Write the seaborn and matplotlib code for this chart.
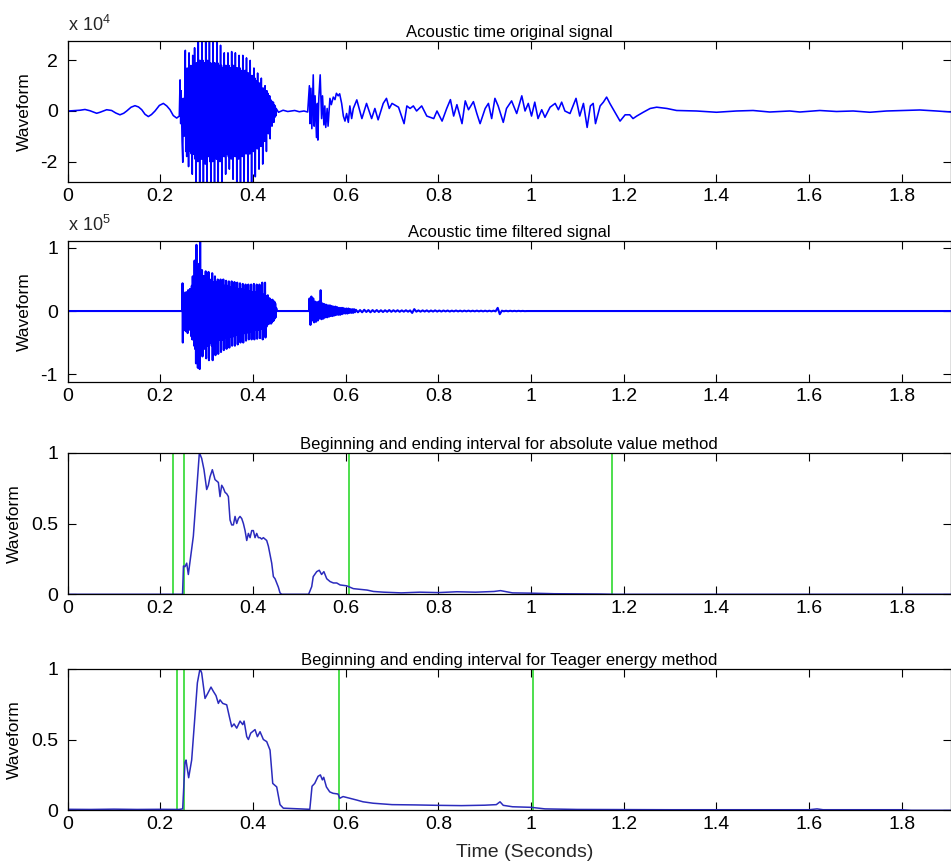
import numpy as np
import pandas as pd
import matplotlib
matplotlib.use("Agg")
import matplotlib.pyplot as plt
import seaborn as sns

# ---------------- data ----------------
# Panel 1: original signal, values in units of 1e4
orig_lead_t = [0.0, 0.0016, 0.0268, 0.0375, 0.0483, 0.0627, 0.070, 0.0843, 0.095, 0.104,
               0.113, 0.121, 0.1275, 0.137, 0.1454, 0.153, 0.160, 0.167, 0.1742, 0.181,
               0.1886, 0.198, 0.2066, 0.214, 0.221, 0.228, 0.2354, 0.241, 0.2427,
               0.2440, 0.2450, 0.2470, 0.2485, 0.2495, 0.2510, 0.2525]
orig_lead_v = [0.0, 0.0, 0.03, 0.06, 0.01, -0.09, -0.05, 0.05, 0.02, -0.08,
               -0.15, -0.09, 0.0, 0.15, 0.21, 0.16, 0.05, -0.13, -0.22, -0.14,
               0.0, 0.22, 0.30, 0.2, 0.05, -0.18, -0.28, -0.2, 1.23,
               -0.5, 0.8, -1.2, -2.03, 0.5, -1.0, 0.3]
orig_burst_start = 0.254
orig_burst_step = 0.001
orig_burst_v = [2.4, -1.6, 1.5, -1.8, 1.7, -1.6, 1.5, -2.2, 2.3, -1.5,
                1.6, -1.6, 1.8, -1.7, 1.6, -2.5, 2.2, -1.7, 1.8, -1.7,
                2.5, -1.9, 1.8, -2.82, 1.9, -1.8, 1.9, -2.0, 2.8, -1.9,
                2.0, -2.82, 2.0, -1.8, 1.9, -1.9, 2.8, -1.9, 2.0, -2.82,
                1.9, -1.9, 1.9, -2.1, 2.8, -2.0, 2.0, -2.82, 2.0, -1.8,
                1.9, -1.8, 2.8, -2.0, 1.9, -2.82, 1.8, -1.9, 1.9, -2.0,
                2.8, -1.9, 1.9, -2.82, 1.9, -1.8, 1.8, -1.9, 2.8, -1.9,
                1.9, -2.82, 1.8, -1.8, 1.8, -2.0, 2.6, -1.8, 1.8, -2.82,
                1.7, -1.7, 1.7, -1.8, 2.3, -1.8, 1.8, -2.5, 1.8, -1.7,
                1.7, -1.7, 2.3, -1.8, 1.8, -2.3, 1.7, -1.7, 1.7, -1.9,
                2.35, -1.8, 1.8, -2.7, 1.8, -1.7, 1.7, -1.8, 2.3, -1.8,
                1.7, -2.82, 1.7, -1.7, 1.7, -1.9, 2.2, -1.8, 1.7, -2.82,
                1.6, -1.7, 1.6, -1.8, 2.2, -1.7, 1.6, -2.82, 1.6, -1.6,
                1.6, -1.7, 2.1, -1.6, 1.5, -2.82, 1.5, -1.6, 1.5, -1.7,
                2.0, -1.6, 1.4, -2.82, 1.4, -1.5, 1.4, -1.6, 1.7, -1.5,
                1.3, -2.6, 1.2, -1.4, 1.2, -1.5, 1.5, -1.3, 1.1, -2.3,
                1.1, -1.3, 1.1, -1.4, 1.3, -1.2, 0.9, -2.1, 0.9, -1.1,
                0.9, -1.2, 1.0, -1.0, 0.8, -1.6, 0.8, -0.8, 0.7, -0.9,
                0.6, -0.7, 0.6, -1.1, 0.45, -0.5, 0.4, -0.6, 0.35, -0.4,
                0.35, -0.45, 0.25, -0.25, 0.2, -0.2, 0.1]
orig_tail_t = [0.455, 0.465, 0.475, 0.49, 0.50, 0.51, 0.518,
               0.5217, 0.523, 0.525, 0.527, 0.530, 0.532, 0.534, 0.537, 0.539, 0.540,
               0.542, 0.545, 0.548, 0.550, 0.553, 0.555, 0.557, 0.560, 0.562, 0.566,
               0.569, 0.5733, 0.5769, 0.580, 0.5838, 0.587, 0.5913, 0.595, 0.5985, 0.602,
               0.6057, 0.609, 0.6129, 0.6165,
               0.624, 0.635, 0.645, 0.656, 0.663, 0.670, 0.681, 0.688, 0.694, 0.700,
               0.714, 0.726, 0.732, 0.739, 0.746, 0.753, 0.764, 0.775, 0.790, 0.797,
               0.808, 0.818, 0.826, 0.833, 0.840, 0.851, 0.858, 0.865, 0.8756, 0.883,
               0.890, 0.901, 0.908, 0.915, 0.922, 0.929, 0.940, 0.947, 0.958, 0.969,
               0.980, 0.987, 0.994, 1.001, 1.008, 1.015, 1.023, 1.030, 1.041, 1.052,
               1.059, 1.066, 1.073, 1.084, 1.097, 1.105, 1.113, 1.121, 1.128, 1.134,
               1.139, 1.149, 1.156, 1.163, 1.170, 1.181, 1.192, 1.203, 1.213, 1.220,
               1.228, 1.242, 1.257, 1.271, 1.293, 1.314, 1.357, 1.400, 1.443, 1.479,
               1.515, 1.558, 1.580, 1.623, 1.659, 1.695, 1.731, 1.767, 1.803, 1.839,
               1.875, 1.906]
orig_tail_v = [-0.05, 0.03, -0.02, 0.02, -0.03, 0.0, -0.04,
               1.0, -0.5, 0.9, -0.7, 1.43, -0.6, 0.6, -1.05, 0.3, -1.15,
               0.5, 1.43, -0.3, 0.6, -0.55, 0.2, -0.65, 0.1, -0.6, 0.5,
               0.25, 0.55, 0.45, 0.7, 0.6, 0.68, 0.3, -0.2, -0.4, -0.1,
               -0.45, 0.2, -0.3, 0.1,
               0.44, -0.3, 0.3, -0.3, 0.1, -0.35, 0.3, 0.5, 0.1, 0.3,
               0.15, -0.5, 0.2, 0.1, 0.2, 0.0, 0.2, -0.2, -0.3, 0.0,
               -0.4, 0.1, 0.45, -0.2, 0.25, -0.5, 0.4, 0.05, 0.37, -0.1,
               -0.5, 0.1, 0.3, -0.3, 0.5, 0.2, -0.45, 0.1, 0.4, -0.1,
               0.6, 0.0, 0.3, -0.2, 0.35, -0.3, 0.05, -0.25, 0.15, 0.3,
               0.05, 0.35, 0.0, -0.1, 0.5, -0.2, 0.3, -0.65, 0.2, 0.3,
               -0.5, 0.2, 0.35, 0.55, 0.3, -0.05, -0.4, -0.15, -0.15, -0.3,
               -0.2, -0.05, 0.1, 0.15, 0.1, 0.02, 0.0, -0.05, 0.0, 0.02,
               -0.04, 0.0, -0.04, 0.02, -0.02, 0.0, -0.05, 0.0, 0.02, 0.04,
               0.0, -0.04]

# Panel 2: filtered signal, values in units of 1e5
filt_lead_t = [0.0, 0.2475, 0.2480, 0.2486, 0.2490]
filt_lead_v = [0.0, 0.0, 0.44, -0.5, 0.1]
filt_burst1_start = 0.250
filt_burst1_step = 0.001
filt_burst1_v = [0.3, -0.28, 0.25, -0.3, 0.22, -0.32, 0.3, -0.25, 0.28, -0.35,
                 0.33, -0.3, 0.3, -0.28, 0.35, -0.3, 0.33, -0.4, 0.4, -0.45,
                 0.55, -0.45, 0.5, -0.55, 0.8, -0.6, 0.7, -0.83, 1.05, -0.7,
                 0.6, -0.9, 0.7, -0.6, 0.75, -0.92, 1.1, -0.6, 0.55, -0.6,
                 0.65, -0.72, 0.55, -0.5, 0.55, -0.6, 0.5, -0.55, 0.63, -0.75,
                 0.5, -0.55, 0.5, -0.5, 0.62, -0.78, 0.5, -0.5, 0.45, -0.5,
                 0.5, -0.55, 0.6, -0.78, 0.45, -0.5, 0.45, -0.5, 0.55, -0.7,
                 0.45, -0.5, 0.45, -0.45, 0.5, -0.68, 0.42, -0.45, 0.42, -0.45,
                 0.5, -0.65, 0.4, -0.45, 0.4, -0.45, 0.5, -0.62, 0.4, -0.42,
                 0.4, -0.42, 0.48, -0.6, 0.38, -0.42, 0.4, -0.4, 0.47, -0.58,
                 0.37, -0.4, 0.38, -0.4, 0.47, -0.55, 0.37, -0.4, 0.37, -0.38,
                 0.46, -0.55, 0.36, -0.38, 0.36, -0.38, 0.45, -0.53, 0.35, -0.37,
                 0.35, -0.37, 0.44, -0.5, 0.34, -0.36, 0.34, -0.36, 0.43, -0.5,
                 0.33, -0.35, 0.33, -0.35, 0.42, -0.47, 0.32, -0.34, 0.32, -0.33,
                 0.42, -0.45, 0.31, -0.33, 0.31, -0.32, 0.42, -0.45, 0.3, -0.32,
                 0.3, -0.32, 0.43, -0.45, 0.3, -0.3, 0.3, -0.3, 0.42, -0.44,
                 0.28, -0.3, 0.28, -0.3, 0.42, -0.43, 0.28, -0.28, 0.27, -0.28,
                 0.45, -0.45, 0.26, -0.27, 0.25, -0.26, 0.45, -0.42, 0.24, -0.25,
                 0.22, -0.22, 0.25, -0.2, 0.2, -0.2, 0.2, -0.18, 0.18, -0.2,
                 0.17, -0.18, 0.18, -0.16, 0.15, -0.15, 0.15, -0.12, 0.12, -0.1,
                 0.05]
filt_gap_t = [0.452, 0.521]
filt_gap_v = [0.0, 0.0]
filt_burst2_start = 0.522
filt_burst2_step = 0.002
filt_burst2_v = [0.2, -0.22, 0.23, -0.15, 0.2, -0.18, 0.15, -0.17, 0.14, -0.15,
                 0.15, -0.12, 0.33, -0.13, 0.12, -0.12, 0.11, -0.1, 0.1, -0.1,
                 0.09, -0.09, 0.09, -0.08, 0.08, -0.08, 0.07, -0.07, 0.07, -0.06,
                 0.06, -0.06, 0.05, -0.06, 0.05, -0.05, 0.05, -0.04, 0.04, -0.04,
                 0.04, -0.04, 0.04, -0.03, 0.03, -0.03, 0.03, -0.03, 0.03, -0.02]
filt_tail_start = 0.622
filt_tail_step = 0.0045
filt_tail_v = [0.02, -0.02, 0.015, -0.02, 0.02, -0.015, 0.015, -0.02, 0.015, -0.015,
               0.015, -0.015, 0.012, -0.015, 0.012, -0.012, 0.015, -0.012, 0.012, -0.01,
               0.012, -0.012, 0.01, -0.01, 0.012, -0.01, 0.01, -0.03, 0.03, -0.01,
               0.01, -0.01, 0.01, -0.008, 0.01, -0.01, 0.008, -0.008, 0.01, -0.008,
               0.008, -0.008, 0.008, -0.006, 0.008, -0.008, 0.006, -0.006, 0.008, -0.006,
               0.006, -0.006, 0.006, -0.005, 0.006, -0.005, 0.005, -0.005, 0.006, -0.005,
               0.005, -0.005, 0.005, -0.005, 0.005, -0.005, 0.005, -0.005, 0.05, -0.05,
               0.005, -0.004, 0.004, -0.004, 0.004, -0.003, 0.003, -0.003, 0.003, -0.002,
               0.002, -0.002, 0.0]
filt_end_t = [1.0, 1.906]
filt_end_v = [0.0, 0.0]

# Panel 3: absolute value method (normalised)
abs_t = [0.0, 0.2480, 0.2500, 0.2533, 0.2570, 0.2605, 0.2641, 0.2713, 0.2786, 0.2843,
         0.2893, 0.2943, 0.3001, 0.3037, 0.3073, 0.3123, 0.3181, 0.3217, 0.3253, 0.3289,
         0.3325, 0.3361, 0.3397, 0.3433, 0.3469, 0.3505, 0.3541, 0.3577, 0.3613, 0.3649,
         0.3685, 0.3720, 0.3757, 0.3793, 0.3829, 0.3865, 0.3901, 0.3937, 0.3973, 0.4008,
         0.4044, 0.4080, 0.4116, 0.4152, 0.4188, 0.4224, 0.4296, 0.4332, 0.4404, 0.4440,
         0.4476, 0.4512, 0.4548, 0.4583, 0.4620, 0.5200, 0.5267, 0.5300, 0.5375, 0.5430,
         0.5480, 0.5530, 0.5591, 0.5663, 0.5735, 0.5807, 0.5880, 0.6020, 0.6165, 0.6310,
         0.6460, 0.6600, 0.6820, 0.72, 0.76, 0.80, 0.84, 0.88, 0.92, 0.934,
         0.96, 1.0, 1.05, 1.1, 1.15, 1.18, 1.906]
abs_v = [0.0, 0.0, 0.2, 0.195, 0.22, 0.14, 0.23, 0.41, 0.74, 1.0,
         0.96, 0.88, 0.74, 0.77, 0.83, 0.88, 0.81, 0.80, 0.79, 0.69,
         0.77, 0.75, 0.72, 0.71, 0.69, 0.525, 0.49, 0.49, 0.55, 0.50,
         0.535, 0.55, 0.535, 0.50, 0.45, 0.38, 0.43, 0.40, 0.45, 0.45,
         0.40, 0.43, 0.40, 0.40, 0.39, 0.40, 0.38, 0.34, 0.22, 0.125,
         0.11, 0.08, 0.05, 0.01, 0.0, 0.0, 0.054, 0.125, 0.16, 0.17,
         0.14, 0.16, 0.11, 0.09, 0.08, 0.08, 0.066, 0.06, 0.04, 0.035,
         0.03, 0.02, 0.015, 0.01, 0.015, 0.012, 0.018, 0.015, 0.02, 0.026,
         0.01, 0.008, 0.004, 0.003, 0.002, 0.0, 0.0]
abs_marks = [0.228, 0.252, 0.608, 1.174]

# Panel 4: Teager energy method (normalised)
teo_t = [0.0, 0.05, 0.1, 0.15, 0.2, 0.24, 0.2483, 0.2533, 0.2555, 0.2612,
         0.2677, 0.2735, 0.2800, 0.2857, 0.2893, 0.2965, 0.3015, 0.3094, 0.3145, 0.3202,
         0.3253, 0.3289, 0.3347, 0.3433, 0.3491, 0.3541, 0.3591, 0.3649, 0.3721, 0.3779,
         0.3808, 0.3865, 0.3901, 0.3951, 0.4044, 0.4095, 0.4152, 0.4224, 0.4296, 0.4368,
         0.4426, 0.4512, 0.4583, 0.4655, 0.5226, 0.5274, 0.5332, 0.5404, 0.5454, 0.5497,
         0.5526, 0.5584, 0.5656, 0.5728, 0.5836, 0.5872, 0.5944, 0.6088, 0.6231, 0.6375,
         0.6591, 0.70, 0.75, 0.80, 0.85, 0.90, 0.925, 0.933, 0.94, 0.96,
         1.0, 1.03, 1.1, 1.3, 1.6, 1.617, 1.63, 1.8, 1.82, 1.906]
teo_v = [0.007, 0.006, 0.008, 0.006, 0.007, 0.006, 0.01, 0.34, 0.355, 0.23,
         0.355, 0.61, 0.9, 1.0, 0.97, 0.79, 0.82, 0.87, 0.84, 0.81,
         0.755, 0.78, 0.755, 0.745, 0.66, 0.59, 0.61, 0.58, 0.63, 0.605,
         0.63, 0.52, 0.5, 0.545, 0.57, 0.52, 0.555, 0.5, 0.485, 0.425,
         0.19, 0.165, 0.04, 0.015, 0.007, 0.17, 0.19, 0.24, 0.25, 0.215,
         0.233, 0.165, 0.13, 0.12, 0.115, 0.085, 0.097, 0.085, 0.073, 0.06,
         0.05, 0.04, 0.038, 0.035, 0.033, 0.036, 0.04, 0.06, 0.035, 0.025,
         0.021, 0.01, 0.006, 0.004, 0.004, 0.01, 0.004, 0.004, 0.0, 0.0]
teo_marks = [0.2354, 0.2519, 0.585, 1.005]

titles = ["Acoustic time original signal",
          "Acoustic time filtered signal",
          "Beginning and ending interval for absolute value method",
          "Beginning and ending interval for Teager energy method"]
x_ticks = [0, 0.2, 0.4, 0.6, 0.8, 1.0, 1.2, 1.4, 1.6, 1.8]
x_tick_labels = ["0", "0.2", "0.4", "0.6", "0.8", "1", "1.2", "1.4", "1.6", "1.8"]
orig_scale, filt_scale = 1e4, 1e5

# ---------------- assemble series ----------------
def grid(start, step, vals):
    return [start + step * i for i in range(len(vals))]

orig_t = orig_lead_t + grid(orig_burst_start, orig_burst_step, orig_burst_v) + orig_tail_t
orig_v = np.array(orig_lead_v + orig_burst_v + orig_tail_v) * orig_scale
filt_t = (filt_lead_t + grid(filt_burst1_start, filt_burst1_step, filt_burst1_v) + filt_gap_t
          + grid(filt_burst2_start, filt_burst2_step, filt_burst2_v)
          + grid(filt_tail_start, filt_tail_step, filt_tail_v) + filt_end_t)
filt_v = np.array(filt_lead_v + filt_burst1_v + filt_gap_v + filt_burst2_v
                  + filt_tail_v + filt_end_v) * filt_scale

df_orig = pd.DataFrame({"t": orig_t, "v": orig_v})
df_filt = pd.DataFrame({"t": filt_t, "v": filt_v})
df_abs = pd.DataFrame({"t": abs_t, "v": abs_v})
df_teo = pd.DataFrame({"t": teo_t, "v": teo_v})

# ---------------- style ----------------
sns.set_theme(style="ticks")
plt.rcParams["font.family"] = ["Liberation Sans", "DejaVu Sans"]
plt.rcParams["mathtext.fontset"] = "custom"
plt.rcParams["mathtext.rm"] = "Liberation Sans"
plt.rcParams["mathtext.it"] = "Liberation Sans"
plt.rcParams["mathtext.default"] = "regular"

W, H = 951, 864
fig = plt.figure(figsize=(W / 100, H / 100), dpi=100)
left = 67.6 / W
width = (950.5 - 67.6) / W
height = 141.6 / H
bottoms = [1 - 182.3 / H, 1 - 382.3 / H, 1 - 594.3 / H, 1 - 810.3 / H]
axes = [fig.add_axes([left, b, width, height]) for b in bottoms]

BLUE = "#0000ff"
ENV = "#2b2bbd"
GREEN = "#3fdc3f"

sns.lineplot(data=df_orig, x="t", y="v", ax=axes[0], color=BLUE, linewidth=1.15,
             estimator=None, sort=False)
sns.lineplot(data=df_filt, x="t", y="v", ax=axes[1], color=BLUE, linewidth=1.5,
             estimator=None, sort=False)
for m in abs_marks:
    axes[2].axvline(m, color=GREEN, linewidth=1.3, zorder=1)
sns.lineplot(data=df_abs, x="t", y="v", ax=axes[2], color=ENV, linewidth=1.1,
             estimator=None, sort=False, zorder=2)
for m in teo_marks:
    axes[3].axvline(m, color=GREEN, linewidth=1.3, zorder=1)
sns.lineplot(data=df_teo, x="t", y="v", ax=axes[3], color=ENV, linewidth=1.1,
             estimator=None, sort=False, zorder=2)

ylims = [(-2.82e4, 2.78e4), (-1.13e5, 1.115e5), (0, 1), (0, 1)]
yticks = [[-2e4, 0, 2e4], [-1e5, 0, 1e5], [0, 0.5, 1], [0, 0.5, 1]]
yticklabels = [["-2", "0", "2"], ["-1", "0", "1"], ["0", "0.5", "1"], ["0", "0.5", "1"]]

for i, ax in enumerate(axes):
    ax.set_xlim(0, 1.905)
    ax.set_ylim(*ylims[i])
    ax.set_xticks(x_ticks)
    ax.set_xticklabels(x_tick_labels)
    ax.set_yticks(yticks[i])
    ax.set_yticklabels(yticklabels[i])
    ax.tick_params(direction="in", length=6, width=0.8, top=True, right=True,
                   labelsize=14, colors="black")
    ax.tick_params(axis="x", pad=4)
    ax.tick_params(axis="y", pad=7)
    for s in ax.spines.values():
        s.set_visible(True)
        s.set_linewidth(0.9)
        s.set_color("black")
    ax.set_title(titles[i], fontsize=12, pad=3, color="black")
    ax.set_ylabel("Waveform", fontsize=12.5, labelpad=6, color="black")
    ax.set_xlabel("")
    ax.set_facecolor("white")
    ax.grid(False)

axes[0].annotate(r"x 10$^{4}$", xy=(0, 1), xycoords="axes fraction", xytext=(0, 7),
                 textcoords="offset points", ha="left", va="baseline", fontsize=13)
axes[1].annotate(r"x 10$^{5}$", xy=(0, 1), xycoords="axes fraction", xytext=(0, 7),
                 textcoords="offset points", ha="left", va="baseline", fontsize=13)

axes[3].set_xlabel("Time (Seconds)", fontsize=14)
axes[3].xaxis.set_label_coords(0.518, -0.24)

fig.savefig("out.png", dpi=100, facecolor="white")
